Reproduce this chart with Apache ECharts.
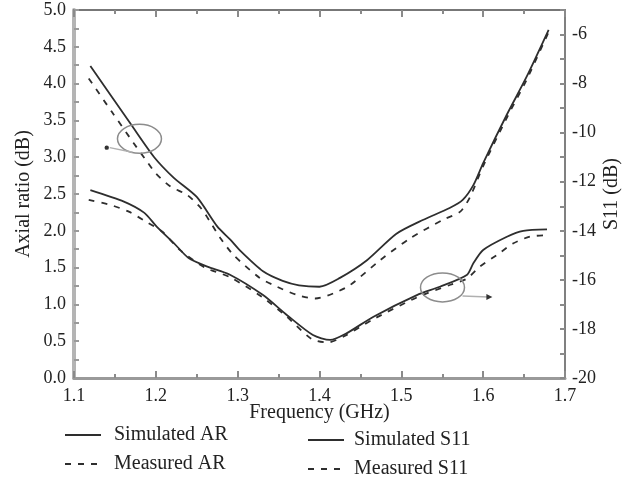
<!DOCTYPE html>
<html>
<head>
<meta charset="utf-8">
<script src="https://cdn.jsdelivr.net/npm/echarts@6/dist/echarts.min.js"></script>
<style>html,body{margin:0;padding:0;background:#fff}#c{width:624px;height:479px}</style>
</head>
<body>
<div id="c"></div>
<script>
// Frequency (GHz) / value pairs
const simAR = [[1.12,4.24],[1.17,3.44],[1.198,3.0],[1.222,2.72],[1.25,2.46],[1.275,2.06],[1.291,1.88],[1.304,1.72],[1.331,1.45],[1.355,1.32],[1.375,1.26],[1.40,1.24],[1.425,1.36],[1.458,1.60],[1.494,1.96],[1.527,2.15],[1.559,2.31],[1.575,2.42],[1.588,2.62],[1.60,2.92],[1.629,3.58],[1.653,4.09],[1.68,4.73]];
const measAR = [[1.118,4.07],[1.146,3.62],[1.173,3.19],[1.186,2.99],[1.20,2.78],[1.218,2.60],[1.238,2.49],[1.255,2.31],[1.267,2.11],[1.279,1.90],[1.295,1.67],[1.327,1.36],[1.348,1.24],[1.372,1.13],[1.395,1.08],[1.417,1.15],[1.437,1.26],[1.474,1.60],[1.511,1.90],[1.551,2.15],[1.572,2.26],[1.584,2.46],[1.60,2.88],[1.63,3.56],[1.653,4.05],[1.68,4.70]];
const simS11 = [[1.12,-12.34],[1.161,-12.81],[1.186,-13.27],[1.201,-13.83],[1.222,-14.50],[1.24,-15.11],[1.263,-15.46],[1.29,-15.78],[1.331,-16.62],[1.36,-17.43],[1.392,-18.25],[1.413,-18.45],[1.433,-18.18],[1.466,-17.50],[1.519,-16.62],[1.547,-16.28],[1.58,-15.80],[1.588,-15.32],[1.60,-14.78],[1.629,-14.24],[1.649,-14.0],[1.678,-13.94]];
const measS11 = [[1.118,-12.74],[1.145,-12.95],[1.167,-13.22],[1.188,-13.63],[1.208,-14.04],[1.23,-14.8],[1.26,-15.5],[1.29,-15.88],[1.33,-16.7],[1.36,-17.5],[1.39,-18.4],[1.41,-18.55],[1.43,-18.3],[1.466,-17.6],[1.52,-16.7],[1.56,-16.2],[1.58,-15.95],[1.596,-15.46],[1.617,-14.98],[1.637,-14.51],[1.657,-14.24],[1.68,-14.17]];
const seriesNames = ['Simulated AR','Measured AR','Simulated S11','Measured S11'];
// annotation anchors in data coordinates: [ellipse centre, arrow end]
const annotAR = [[1.18,3.25],[1.14,3.13]];
const annotS11 = [[1.5503,-16.31],[1.61,-16.7]];

const FONT = '"Liberation Serif","DejaVu Serif",serif';
const LINE = '#2e2e2e';
const chart = echarts.init(document.getElementById('c'), null, {renderer:'canvas'});

function xAx(pos, showLabel, lineColor, lineWidth){
  return {
    type:'value', position:pos, min:1.1, max:1.7, interval:0.1,
    axisLine:{show:true, onZero:false, lineStyle:{color:lineColor, width:lineWidth}},
    axisTick:{show:true, inside:true, length:7, lineStyle:{color:'#8a8a8a', width:2}},
    minorTick:{show:true, splitNumber:2, length:4, lineStyle:{color:'#8a8a8a', width:2}},
    splitLine:{show:false},
    axisLabel:{show:showLabel, formatter:v=>v.toFixed(1), fontFamily:FONT, fontSize:18, color:'#222', margin:9},
    name: showLabel ? 'Frequency (GHz)' : '',
    nameLocation:'middle', nameGap:25, nameMoveOverlap:false,
    nameTextStyle:{fontFamily:FONT, fontSize:20, color:'#222'}
  };
}

function legendFor(names, left, top, gap){
  return {data:names, orient:'vertical', left:left, top:top, padding:0, height:80,
    itemWidth:36, itemHeight:14, itemGap:9, selectedMode:false,
    itemStyle:{opacity:0},
    textStyle:{fontFamily:FONT, fontSize:20, color:'#222', padding:[0,0,0,gap]}};
}

const option = {
  animation:false,
  color:[LINE],
  grid:{left:74, right:59, top:10, bottom:101, containLabel:false, outerBoundsMode:'none'},
  xAxis:[ xAx('bottom', true, '#9a9a9a', 3), xAx('top', false, '#777', 2) ],
  yAxis:[
    {type:'value', position:'left', min:0, max:5, interval:0.5,
     axisLine:{show:true, onZero:false, lineStyle:{color:'#b4b4b4', width:4}},
     axisTick:{show:true, inside:true, length:5, lineStyle:{color:'#9a9a9a', width:2}},
     minorTick:{show:true, splitNumber:2, length:5, lineStyle:{color:'#9a9a9a', width:2}},
     splitLine:{show:false},
     axisLabel:{formatter:v=>v.toFixed(1), fontFamily:FONT, fontSize:18, color:'#222', margin:8},
     name:'Axial ratio (dB)', nameLocation:'middle', nameGap:40, nameRotate:90, nameMoveOverlap:false,
     nameTextStyle:{fontFamily:FONT, fontSize:20, color:'#222'}},
    {type:'value', position:'right', min:-20, max:-5, interval:1,
     axisLine:{show:true, onZero:false, lineStyle:{color:'#808080', width:2}},
     axisTick:{show:true, inside:true, length:5, lineStyle:{color:'#8a8a8a', width:2}},
     splitLine:{show:false},
     axisLabel:{formatter:v=> (Math.round(v)%2===0 ? String(Math.round(v)) : ''), fontFamily:FONT, fontSize:18, color:'#222', margin:7},
     name:'S11 (dB)', nameLocation:'middle', nameGap:37, nameRotate:90, nameMoveOverlap:false,
     nameTextStyle:{fontFamily:FONT, fontSize:20, color:'#222'}}
  ],
  legend:[ legendFor([seriesNames[0], seriesNames[1]], 64, 425, 8), legendFor([seriesNames[2], seriesNames[3]], 307, 430, 5) ],
  series:[
    {name:seriesNames[0], type:'line', xAxisIndex:0, yAxisIndex:0, data:simAR, smooth:0.25, symbol:'none', color:LINE, lineStyle:{color:LINE, width:1.8, type:'solid'}},
    {name:seriesNames[1], type:'line', xAxisIndex:0, yAxisIndex:0, data:measAR, smooth:0.25, symbol:'none', color:LINE, lineStyle:{color:LINE, width:1.8, type:[6,7]}},
    {name:seriesNames[2], type:'line', xAxisIndex:0, yAxisIndex:1, data:simS11, smooth:0.25, symbol:'none', color:LINE, lineStyle:{color:LINE, width:1.8, type:'solid'}},
    {name:seriesNames[3], type:'line', xAxisIndex:0, yAxisIndex:1, data:measS11, smooth:0.25, symbol:'none', color:LINE, lineStyle:{color:LINE, width:1.8, type:[6,7]}}
  ]
};
chart.setOption(option);

// annotations (ellipse + pointer) placed through the axes' own scales
const e1 = chart.convertToPixel({xAxisIndex:0, yAxisIndex:0}, annotAR[0]);
const a1 = chart.convertToPixel({xAxisIndex:0, yAxisIndex:0}, annotAR[1]);
const e2 = chart.convertToPixel({xAxisIndex:0, yAxisIndex:1}, annotS11[0]);
const a2 = chart.convertToPixel({xAxisIndex:0, yAxisIndex:1}, annotS11[1]);
const RX = 22, RY = 14.5;
chart.setOption({
  graphic:[
    {type:'ellipse', shape:{cx:e1[0], cy:e1[1], rx:RX, ry:RY}, style:{fill:'none', stroke:'#8c8c8c', lineWidth:1.5}, z:10},
    {type:'line', shape:{x1:e1[0]-7, y1:e1[1]+RY-1, x2:a1[0]+3, y2:a1[1]}, style:{stroke:'#b0b0b0', lineWidth:1.5}, z:10},
    {type:'circle', shape:{cx:a1[0], cy:a1[1], r:2.2}, style:{fill:'#333'}, z:10},
    {type:'ellipse', shape:{cx:e2[0], cy:e2[1], rx:RX, ry:RY}, style:{fill:'none', stroke:'#8c8c8c', lineWidth:1.5}, z:10},
    {type:'line', shape:{x1:e2[0]+RX-2, y1:e2[1]+8.5, x2:a2[0]-3, y2:a2[1]}, style:{stroke:'#b0b0b0', lineWidth:1.5}, z:10},
    {type:'polygon', shape:{points:[[a2[0]+1,a2[1]],[a2[0]-5,a2[1]-3],[a2[0]-5,a2[1]+3]]}, style:{fill:'#333'}, z:10}
  ]
});
</script>
</body>
</html>
